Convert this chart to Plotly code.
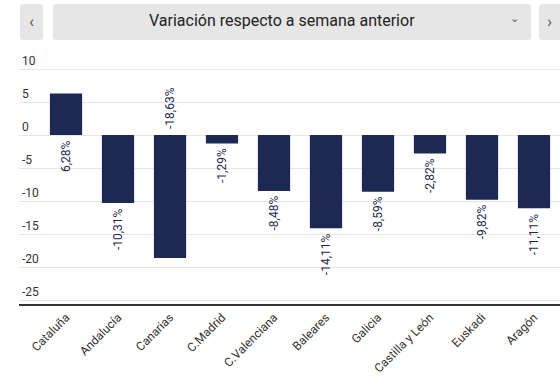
import plotly.graph_objects as go

categories = ["Cataluña", "Andalucía", "Canarias", "C.Madrid", "C.Valenciana",
              "Baleares", "Galicia", "Castilla y León", "Euskadi", "Aragón"]
values = [6.28, -10.31, -18.63, -1.29, -8.48, -14.11, -8.59, -2.82, -9.82, -11.11]
label_texts = ["6,28%", "-10,31%", "-18,63%", "-1,29%", "-8,48%", "-14,11%",
               "-8,59%", "-2,82%", "-9,82%", "-11,11%"]
y_ticks = [10, 5, 0, -5, -10, -15, -20, -25]
title = "Variación respecto a semana anterior"

W, H = 560, 384
ML, MR, MT, MB = 19, 0, 45, 80
BAR = "#1d2952"
SCALE = 6.6  # px per unit
ZERO_Y = 135

def px(x):
    return (x - ML) / (W - ML - MR)

def py(y):
    return 1 - (y - MT) / (H - MT - MB)

y_top = (ZERO_Y - MT) / SCALE
y_bot = -((H - MB) - ZERO_Y) / SCALE

fig = go.Figure(go.Bar(x=list(range(len(categories))), y=values, marker_color=BAR,
                       width=0.62, hoverinfo="skip"))

annotations = []
for i, (v, t) in enumerate(zip(values, label_texts)):
    if v >= 0:
        y, anchor, shift = 0, "top", -3
    elif v < -18:
        y, anchor, shift = 0, "bottom", 4
    else:
        y, anchor, shift = v, "top", -3
    annotations.append(dict(x=i, y=y, xref="x", yref="y", text=t, textangle=-90,
                            showarrow=False, yanchor=anchor, xanchor="center",
                            yshift=shift, font=dict(family="Roboto", size=12, color=BAR)))

# header controls
shapes = []
def rrect(x0, y0, x1, y1, r=3, color="#e6e6e6"):
    path = (f"M {px(x0+r)} {py(y0)} L {px(x1-r)} {py(y0)} Q {px(x1)} {py(y0)} {px(x1)} {py(y0+r)} "
            f"L {px(x1)} {py(y1-r)} Q {px(x1)} {py(y1)} {px(x1-r)} {py(y1)} "
            f"L {px(x0+r)} {py(y1)} Q {px(x0)} {py(y1)} {px(x0)} {py(y1-r)} "
            f"L {px(x0)} {py(y0+r)} Q {px(x0)} {py(y0)} {px(x0+r)} {py(y0)} Z")
    return dict(type="path", xref="paper", yref="paper", path=path,
                fillcolor=color, line=dict(width=0), layer="above")

shapes.append(rrect(20, 4, 43, 40))
shapes.append(rrect(53, 4, 531, 40))
shapes.append(rrect(539, 4, 566, 40))

def header_text(x, y, text, size, color, family="Roboto"):
    return dict(x=px(x), y=py(y), xref="paper", yref="paper", text=text,
                xanchor="center", yanchor="middle", showarrow=False,
                font=dict(family=family, size=size, color=color))

annotations.append(header_text(282, 21, title, 16, "#222"))
annotations.append(header_text(31.5, 21, "‹", 17, "#555"))
annotations.append(header_text(549, 21, "›", 17, "#555"))
annotations.append(header_text(514, 19, "⌄", 11, "#555", "DejaVu Sans"))

fig.update_layout(
    template="none",
    width=W, height=H,
    margin=dict(l=ML, r=MR, t=MT, b=MB, pad=0),
    paper_bgcolor="white", plot_bgcolor="white",
    showlegend=False,
    annotations=annotations,
    shapes=shapes,
    xaxis=dict(range=[-0.904, 9.5], tickmode="array", tickvals=list(range(len(categories))),
               ticktext=categories, tickangle=-45, showgrid=False, zeroline=False,
               showline=True, linecolor="#333", linewidth=1.5, automargin=False,
               tickfont=dict(family="Roboto", size=12, color="#333"), ticks=""),
    yaxis=dict(range=[y_bot, y_top], tickmode="array", tickvals=y_ticks,
               ticktext=[str(t) for t in y_ticks], showgrid=True, gridcolor="#e6e6e6",
               gridwidth=1, zeroline=False, ticklabelposition="inside top", automargin=False,
               tickfont=dict(family="Roboto", size=12, color="#333"), showline=False, ticks=""),
)

fig.write_html("out.html", config={"displayModeBar": False},
               post_script="document.body.style.margin='0';")
